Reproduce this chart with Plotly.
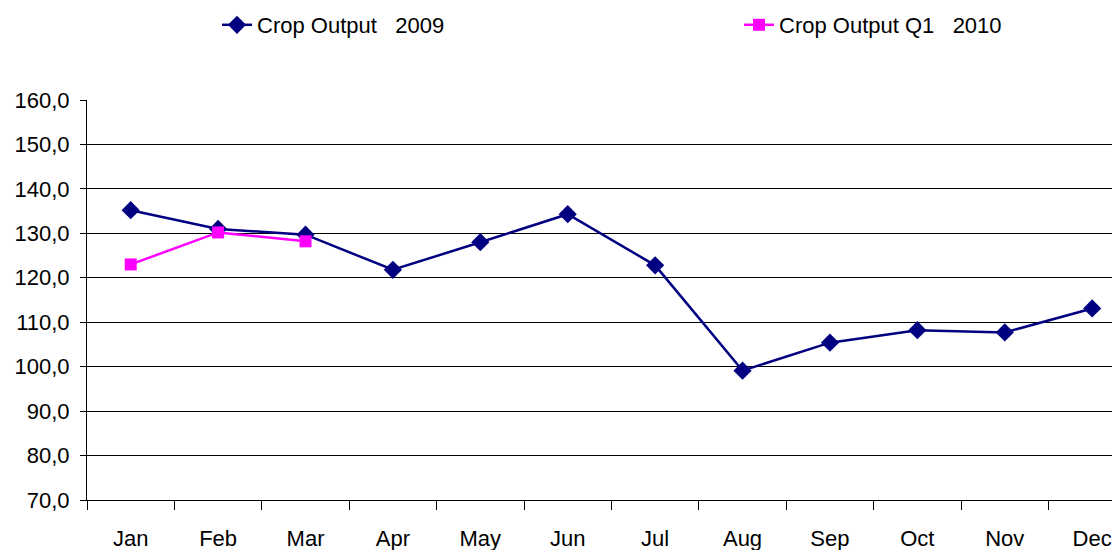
import plotly.graph_objects as go

months = ["Jan", "Feb", "Mar", "Apr", "May", "Jun", "Jul", "Aug", "Sep", "Oct", "Nov", "Dec"]
output_2009 = [135.2, 131.0, 129.7, 121.8, 128.0, 134.3, 122.8, 99.1, 105.4, 108.2, 107.7, 113.1]
q1_months = ["Jan", "Feb", "Mar"]
output_q1_2010 = [123.0, 130.2, 128.2]

# the page body has an 8px margin, so the figure is laid out 8px up/left
OFF = 8

fig = go.Figure()
fig.add_trace(go.Scatter(
    x=months, y=output_2009, name="Crop Output   2009", mode="lines+markers",
    line=dict(color="#000080", width=2.5),
    marker=dict(symbol="diamond", size=14, color="#000080"),
    legend="legend",
))
fig.add_trace(go.Scatter(
    x=q1_months, y=output_q1_2010, name="Crop Output Q1   2010", mode="lines+markers",
    line=dict(color="#FF00FF", width=2.5),
    marker=dict(symbol="square", size=12, color="#FF00FF"),
    legend="legend2",
))

leg_common = dict(
    orientation="h", xref="container", yref="container",
    y=1-(25-OFF)/550, xanchor="left", yanchor="middle",
    font=dict(size=22), bgcolor="rgba(0,0,0,0)",
)

fig.update_layout(
    width=1120, height=550,
    margin=dict(l=87-OFF, r=0, t=100-OFF, b=50+OFF, autoexpand=False),
    paper_bgcolor="white", plot_bgcolor="white",
    separators=", ",
    font=dict(family="Liberation Sans, Arial, sans-serif", size=21, color="black"),
    showlegend=True,
    legend=dict(x=(217-OFF)/1120, **leg_common),
    legend2=dict(x=(739-OFF)/1120, **leg_common),
)
fig.update_xaxes(
    type="category", categoryorder="array", categoryarray=months,
    range=[-0.5, 11.41], automargin=False,
    showline=True, linecolor="black", linewidth=1,
    ticks="outside", tickson="boundaries", ticklen=9, tickcolor="black",
    showgrid=False, tickfont=dict(size=22), ticklabelstandoff=19,
)
fig.update_yaxes(
    range=[70, 160], dtick=10, tick0=70, tickformat=".1f", automargin=False,
    showline=True, linecolor="black", linewidth=1,
    ticks="outside", ticklen=6, tickcolor="black",
    showgrid=True, gridcolor="black", gridwidth=1,
    zeroline=False, tickfont=dict(size=22), ticklabelstandoff=6,
)

fig.write_html("out.html")
